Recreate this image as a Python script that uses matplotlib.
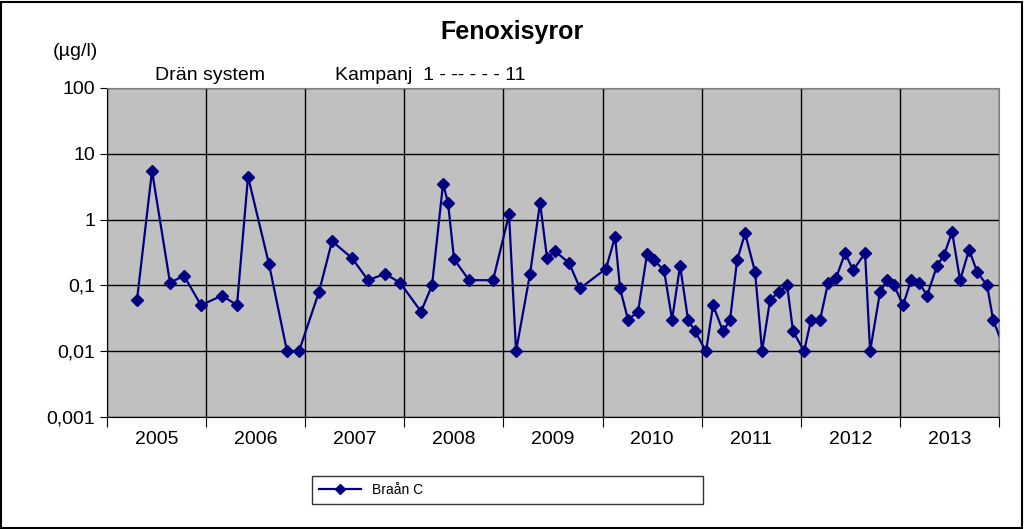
import matplotlib.pyplot as plt
import matplotlib.ticker as mticker
from matplotlib.patches import Rectangle
import numpy as np

plt.rcParams["font.family"] = "Liberation Sans"

# x positions as pixel-read fractional years (2005.0 = left edge), values in µg/l
px = [137, 152, 170, 184, 201, 222, 237, 248, 269, 287, 299, 319, 332, 352, 368, 385,
      400, 421, 432, 443, 448, 454, 469, 493, 509, 516, 530, 540, 547, 555, 569, 580,
      606, 615, 620, 628, 638, 647, 654, 664, 672, 680, 688, 695, 706, 713, 723, 730,
      737, 745, 755, 762, 770, 779, 787, 793, 804, 811, 820, 828, 836, 845, 853, 865,
      870, 880, 887, 894, 903, 911, 919, 927, 937, 944, 952, 960, 969, 977, 987, 993, 1005]
values = [0.06, 5.5, 0.11, 0.14, 0.05, 0.07, 0.05, 4.5, 0.21, 0.01, 0.01, 0.08, 0.47, 0.26, 0.12, 0.15,
          0.11, 0.04, 0.1, 3.5, 1.8, 0.25, 0.12, 0.12, 1.2, 0.01, 0.15, 1.8, 0.26, 0.33, 0.22, 0.09,
          0.18, 0.55, 0.09, 0.03, 0.04, 0.3, 0.24, 0.17, 0.03, 0.2, 0.03, 0.02, 0.01, 0.05, 0.02, 0.03,
          0.24, 0.62, 0.16, 0.01, 0.06, 0.08, 0.1, 0.02, 0.01, 0.03, 0.03, 0.11, 0.13, 0.31, 0.17, 0.31,
          0.01, 0.08, 0.12, 0.1, 0.05, 0.12, 0.11, 0.07, 0.2, 0.29, 0.65, 0.12, 0.35, 0.16, 0.1, 0.03, 0.01]
years = list(range(2005, 2014))
ytick_labels = ["0,001", "0,01", "0,1", "1", "10", "100"]

x = 2005 + (np.array(px) - 107) / 99.1

fig = plt.figure(figsize=(10.24, 5.29), dpi=100)
fig.patches.append(Rectangle((0.001, 0.002), 0.997, 0.995, transform=fig.transFigure,
                             fill=False, edgecolor="black", linewidth=1.5))
ax = fig.add_axes([107 / 1024, 112 / 529, 892 / 1024, 329 / 529])
ax.set_facecolor("#C0C0C0")

ax.plot(x, values, color="#000080", marker="D", markersize=6, linewidth=1.6,
        label="Braån C", zorder=3)

ax.set_yscale("log")
ax.set_ylim(0.001, 100)
ax.set_xlim(2005, 2014)
ax.set_yticks([10.0 ** k for k in range(-3, 3)])
ax.set_yticklabels(ytick_labels, fontsize=14)
ax.yaxis.set_minor_locator(mticker.NullLocator())

ax.set_xticks(years + [2014])
ax.set_xticklabels([])
ax.set_xticks([y + 0.5 for y in years], minor=True)
ax.set_xticklabels([str(y) for y in years], minor=True, fontsize=14)
ax.tick_params(axis="x", which="major", length=7, direction="out")
ax.tick_params(axis="x", which="minor", length=0, pad=10)
ax.tick_params(axis="y", length=5)
ax.grid(True, which="major", color="black", linewidth=1)
for s in ["top", "right"]:
    ax.spines[s].set_color("#808080")

fig.text(0.5, 1 - 32 / 529, "Fenoxisyror", ha="center", va="center",
         fontsize=18, fontweight="bold")
fig.text(75 / 1024, 1 - 52 / 529, "(µg/l)", ha="center", va="center", fontsize=14)
fig.text(210 / 1024, 1 - 76 / 529, "Drän system", ha="center", va="center", fontsize=14)
fig.text(430 / 1024, 1 - 75 / 529, "Kampanj  1 - -- - - - 11", ha="center", va="center",
         fontsize=14)

fig.legend(loc="lower left", bbox_to_anchor=(305 / 1024, 18 / 529, 405 / 1024, 28 / 529),
           mode="expand", ncol=1, frameon=True, fancybox=False, edgecolor="black",
           fontsize=10, handlelength=3, borderpad=0.5, markerscale=0.8)

fig.savefig("out.png", dpi=100)
